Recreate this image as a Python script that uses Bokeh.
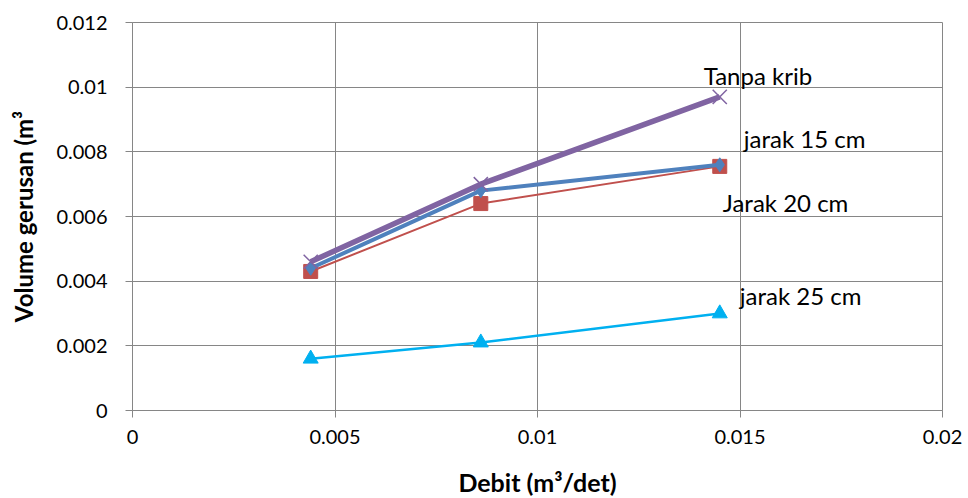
from bokeh.plotting import figure
from bokeh.models import FixedTicker, CustomJSTickFormatter, Label, Range1d
from bokeh.embed import file_html
from bokeh.resources import INLINE

debit = [0.0044, 0.0086, 0.0145]
tanpa_krib = [0.0046, 0.0070, 0.0097]
jarak_15 = [0.0044, 0.0068, 0.0076]
jarak_20 = [0.0043, 0.0064, 0.00755]
jarak_25 = [0.0016, 0.0021, 0.0030]
x_ticks = [0, 0.005, 0.01, 0.015, 0.02]
y_ticks = [0, 0.002, 0.004, 0.006, 0.008, 0.01, 0.012]

FONT = "Lato"
GRID = "#868686"

p = figure(frame_width=810, frame_height=388, min_border_left=132, min_border_top=22,
           min_border_right=26, min_border_bottom=88, output_backend="svg",
           toolbar_location=None, x_range=Range1d(0, 0.02), y_range=Range1d(0, 0.012))
p.background_fill_color = "white"
p.border_fill_color = "white"
p.outline_line_color = GRID
p.outline_line_width = 1

fmt = CustomJSTickFormatter(code="return String(Number(tick.toPrecision(6)));")
for ax, ticks in ((p.xaxis[0], x_ticks), (p.yaxis[0], y_ticks)):
    ax.ticker = FixedTicker(ticks=ticks)
    ax.formatter = fmt
    ax.axis_line_color = GRID
    ax.major_tick_line_color = GRID
    ax.major_tick_in = 0
    ax.major_tick_out = 7
    ax.minor_tick_line_color = None
    ax.major_label_text_font = FONT
    ax.major_label_text_font_size = "20px"
    ax.major_label_text_color = "black"
    ax.axis_label_text_font = FONT
    ax.axis_label_text_font_style = "bold"
    ax.axis_label_text_color = "black"

p.xaxis.axis_label_text_font_size = "25px"
p.yaxis.axis_label_text_font_size = "24px"
p.xaxis.axis_label = "Debit (m³/det)"
p.yaxis.axis_label = "Volume gerusan (m³"
p.xaxis.major_label_standoff = 12
p.yaxis.major_label_standoff = 18
p.xaxis.axis_label_standoff = 20
p.yaxis.axis_label_standoff = 15

p.xgrid.ticker = FixedTicker(ticks=x_ticks)
p.ygrid.ticker = FixedTicker(ticks=y_ticks)
p.grid.grid_line_color = GRID
p.grid.grid_line_width = 1

# jarak 25 cm
p.line(debit, jarak_25, line_color="#00B0F0", line_width=2.5)
p.scatter(debit, jarak_25, marker="triangle", size=15, fill_color="#00B0F0", line_color="#00B0F0")
# Jarak 20 cm
p.line(debit, jarak_20, line_color="#C0504D", line_width=2)
p.scatter(debit, jarak_20, marker="square", size=14, fill_color="#C0504D", line_color="#C0504D")
# jarak 15 cm
p.line(debit, jarak_15, line_color="#4F81BD", line_width=4)
p.scatter(debit, jarak_15, marker="diamond", size=14, fill_color="#4F81BD", line_color="#4F81BD")
# Tanpa krib
p.line(debit, tanpa_krib, line_color="#8064A2", line_width=5.5)
p.scatter(debit, tanpa_krib, marker="x", size=20, line_color="#8064A2", line_width=1.5)

labels = [("Tanpa krib", tanpa_krib[-1], -16, 21),
          ("jarak 15 cm", jarak_15[-1], 24, 26),
          ("Jarak 20 cm", jarak_20[-1], 3, -36),
          ("jarak 25 cm", jarak_25[-1], 20, 18)]
for txt, yv, dx, dy in labels:
    p.add_layout(Label(x=debit[-1], y=yv, x_offset=dx, y_offset=dy, text=txt,
                       text_font=FONT, text_font_size="24px", text_color="black",
                       text_baseline="middle", text_align="left"))

open("out.html", "w").write(file_html(p, INLINE))
